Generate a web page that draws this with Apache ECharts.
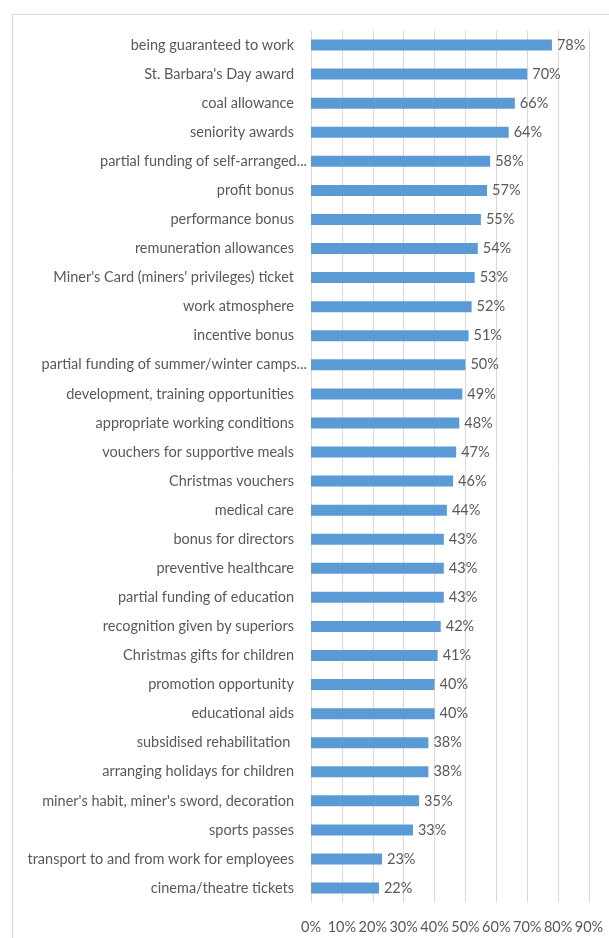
<!DOCTYPE html>
<html>
<head>
<meta charset="utf-8">
<script src="https://cdn.jsdelivr.net/npm/echarts@6/dist/echarts.min.js"></script>
<style>
  html, body { margin: 0; padding: 0; background: #fff; }
  #chart { width: 609px; height: 938px; }
</style>
</head>
<body>
<div id="chart"></div>
<script>
// Share of respondents rating each benefit (%), highest first
const categories = [
  "being guaranteed to work",
  "St. Barbara's Day award",
  "coal allowance",
  "seniority awards",
  "partial funding of self-arranged...",
  "profit bonus",
  "performance bonus",
  "remuneration allowances",
  "Miner's Card (miners' privileges) ticket",
  "work atmosphere",
  "incentive bonus",
  "partial funding of summer/winter camps...",
  "development, training opportunities",
  "appropriate working conditions",
  "vouchers for supportive meals",
  "Christmas vouchers",
  "medical care",
  "bonus for directors",
  "preventive healthcare",
  "partial funding of education",
  "recognition given by superiors",
  "Christmas gifts for children",
  "promotion opportunity",
  "educational aids",
  "subsidised rehabilitation ",
  "arranging holidays for children",
  "miner's habit, miner's sword, decoration",
  "sports passes",
  "transport to and from work for employees",
  "cinema/theatre tickets"
];
const values = [78, 70, 66, 64, 58, 57, 55, 54, 53, 52, 51, 50, 49, 48, 47, 46, 44, 43, 43, 43, 42, 41, 40, 40, 38, 38, 35, 33, 23, 22];
const xTicks = ["0%", "10%", "20%", "30%", "40%", "50%", "60%", "70%", "80%", "90%"];

const FONT = "Lato";
const TEXT = "#595959";
const SIZE = 14.5;

const chart = echarts.init(document.getElementById("chart"), null, { renderer: "canvas" });
chart.setOption({
  backgroundColor: "#ffffff",
  animation: false,
  graphic: [{
    type: "rect",
    left: 10, top: 12,
    shape: { width: 700, height: 1000 },
    style: { fill: "none", stroke: "#d9d9d9", lineWidth: 1 },
    silent: true
  }],
  grid: { left: 311, right: 20, top: 30.5, bottom: 35.4, containLabel: false },
  xAxis: {
    type: "value",
    min: 0, max: 90, interval: 10,
    axisLine: { show: false },
    axisTick: { show: false },
    splitLine: { show: true, lineStyle: { color: "#d9d9d9", width: 1 } },
    axisLabel: {
      color: TEXT, fontFamily: FONT, fontSize: SIZE, margin: 17,
      formatter: (v) => xTicks[Math.round(v / 10)]
    }
  },
  yAxis: {
    type: "category",
    data: categories,
    inverse: true,
    axisLine: { show: false },
    axisTick: { show: false },
    axisLabel: {
      color: TEXT, fontFamily: FONT, fontSize: SIZE, margin: 4,
      formatter: (s) => (s.endsWith("...") ? "{t|" + s + "}" : "{p|" + s + "}"),
      rich: {
        t: { color: TEXT, fontFamily: FONT, fontSize: SIZE },
        p: { color: TEXT, fontFamily: FONT, fontSize: SIZE, padding: [0, 13, 0, 0] }
      }
    }
  },
  series: [{
    type: "bar",
    data: values,
    barWidth: 11,
    itemStyle: { color: "#5b9bd5" },
    label: {
      show: true, position: "right", distance: 5,
      color: TEXT, fontFamily: FONT, fontSize: SIZE,
      formatter: (p) => p.value + "%"
    }
  }]
});
</script>
</body>
</html>
